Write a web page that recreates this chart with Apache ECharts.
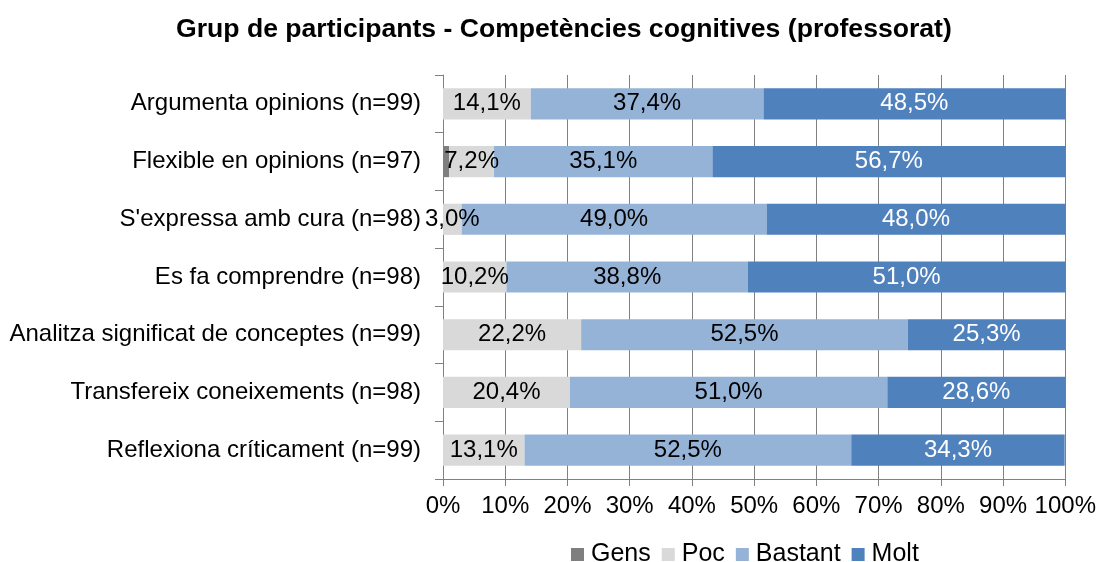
<!DOCTYPE html>
<html>
<head>
<meta charset="utf-8">
<script src="https://cdn.jsdelivr.net/npm/echarts@6/dist/echarts.min.js"></script>
<style>
  html, body { margin: 0; padding: 0; background: #fff; }
  #chart { width: 1099px; height: 562px; }
</style>
</head>
<body>
<div id="chart"></div>
<script>
// categories top to bottom
const categories = [
  'Argumenta opinions (n=99)',
  'Flexible en opinions (n=97)',
  "S'expressa amb cura (n=98)",
  'Es fa comprendre (n=98)',
  'Analitza significat de conceptes (n=99)',
  'Transfereix coneixements (n=98)',
  'Reflexiona críticament (n=99)'
]
const gens = [0, 1.0, 0, 0, 0, 0, 0]
const poc = [14.1, 7.2, 3.0, 10.2, 22.2, 20.4, 13.1]
const bastant = [37.4, 35.1, 49.0, 38.8, 52.5, 51.0, 52.5]
const molt = [48.5, 56.7, 48.0, 51.0, 25.3, 28.6, 34.3]
const xTicks = [0, 10, 20, 30, 40, 50, 60, 70, 80, 90, 100]

const font = 'Liberation Sans, Arial, sans-serif'
const fmt = (v) => v.toFixed(1).replace('.', ',') + '%'

const makeSeries = (name, data, color, labelColor, showLabel) => ({
  name: name,
  type: 'bar',
  stack: 'total',
  barWidth: '54%',
  data: data,
  itemStyle: { color: color },
  label: {
    show: showLabel,
    position: 'inside',
    color: labelColor,
    fontFamily: font,
    fontSize: 24,
    formatter: (p) => fmt(p.value)
  },
  emphasis: { disabled: true }
})

const chart = echarts.init(document.getElementById('chart'))
chart.setOption({
  animation: false,
  title: {
    text: 'Grup de participants - Competències cognitives (professorat)',
    left: 171,
    top: 11,
    textStyle: { fontFamily: font, fontSize: 26.6, fontWeight: 'bold', color: '#000' }
  },
  legend: {
    data: ['Gens', 'Poc', 'Bastant', 'Molt'],
    left: 566,
    top: 537,
    itemWidth: 13,
    itemHeight: 13,
    itemGap: 11,
    icon: 'rect',
    textStyle: { fontFamily: font, fontSize: 25, color: '#000', padding: [0, 0, 0, 2] }
  },
  grid: { left: 443, right: 31, top: 75, bottom: 83 },
  xAxis: {
    type: 'value',
    min: 0,
    max: 100,
    interval: 10,
    axisLine: { show: true, lineStyle: { color: '#808080', width: 1 } },
    axisTick: { show: true, length: 7, lineStyle: { color: '#808080' } },
    splitLine: { show: true, lineStyle: { color: '#808080', width: 1 } },
    axisLabel: {
      margin: 15,
      color: '#000',
      fontFamily: font,
      fontSize: 24,
      formatter: (v) => (xTicks.includes(v) ? v + '%' : '')
    }
  },
  yAxis: {
    type: 'category',
    inverse: true,
    data: categories,
    axisLine: { show: true, lineStyle: { color: '#808080', width: 1 } },
    axisTick: { show: true, length: 8, lineStyle: { color: '#808080' } },
    axisLabel: { margin: 22, color: '#000', fontFamily: font, fontSize: 24 }
  },
  series: [
    makeSeries('Gens', gens, '#7f7f7f', '#000', false),
    makeSeries('Poc', poc, '#d9d9d9', '#000', true),
    makeSeries('Bastant', bastant, '#95b3d7', '#000', true),
    makeSeries('Molt', molt, '#4f81bd', '#fff', true)
  ]
})
</script>
</body>
</html>
